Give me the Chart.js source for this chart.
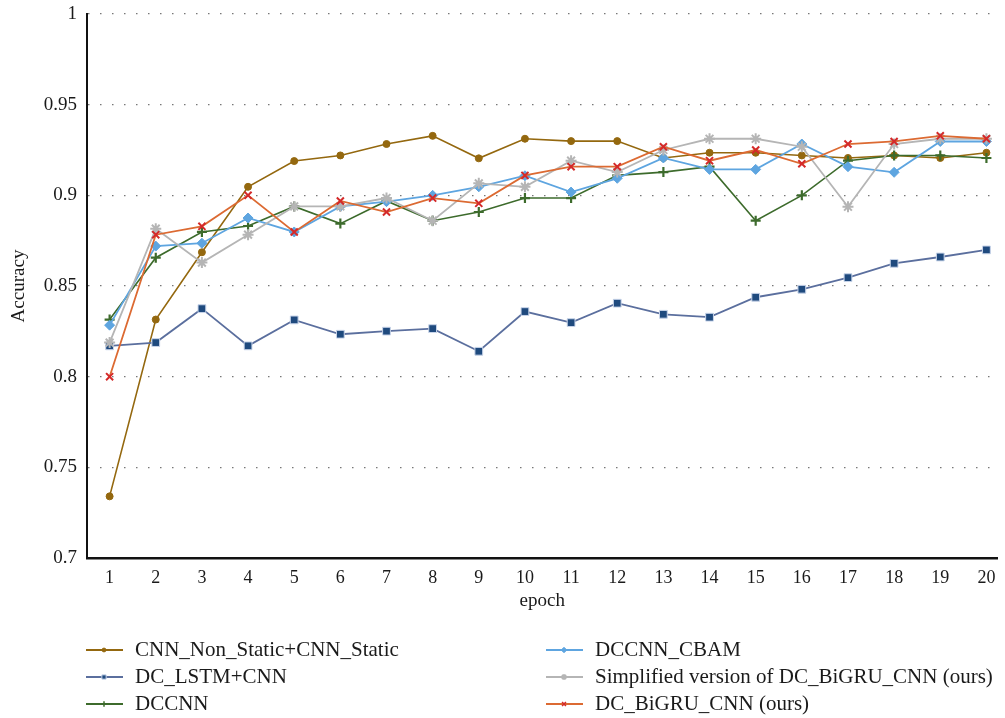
<!DOCTYPE html>
<html>
<head>
<meta charset="utf-8">
<script src="https://cdn.jsdelivr.net/npm/chart.js@4/dist/chart.umd.min.js"></script>
<style>
  html, body { margin: 0; padding: 0; background: #fff; }
  #wrap { position: relative; width: 1005px; height: 718px; }
</style>
</head>
<body>
<div id="wrap"><canvas id="accChart" width="1005" height="718"></canvas></div>
<script>
// --- DONNÉES ---
const epochs = [1, 2, 3, 4, 5, 6, 7, 8, 9, 10, 11, 12, 13, 14, 15, 16, 17, 18, 19, 20];
const yTicks = [0.7, 0.75, 0.8, 0.85, 0.9, 0.95, 1];

const cnnNonStatic = [0.734, 0.8315, 0.8686, 0.9047, 0.9189, 0.922, 0.9283, 0.9328, 0.9204, 0.9312,
                      0.9299, 0.9299, 0.9206, 0.9235, 0.9235, 0.922, 0.9206, 0.922, 0.9206, 0.9235];
const dcLstmCnn    = [0.817, 0.8188, 0.8375, 0.817, 0.8313, 0.8234, 0.8251, 0.8265, 0.814, 0.8359,
                      0.8298, 0.8405, 0.8344, 0.8328, 0.8438, 0.8482, 0.8546, 0.8625, 0.866, 0.8699];
const dccnn        = [0.8315, 0.8656, 0.8798, 0.8831, 0.8939, 0.8844, 0.8969, 0.886, 0.8908, 0.8985,
                      0.8985, 0.911, 0.9128, 0.9158, 0.886, 0.9, 0.9191, 0.922, 0.922, 0.9206];
const dccnnCbam    = [0.8284, 0.872, 0.8736, 0.8875, 0.8798, 0.8939, 0.8965, 0.9, 0.9047, 0.9108,
                      0.9018, 0.9094, 0.9206, 0.9143, 0.9143, 0.9283, 0.9158, 0.9127, 0.9297, 0.9297];
const simplified   = [0.8188, 0.8816, 0.8629, 0.8783, 0.8939, 0.8939, 0.8985, 0.886, 0.9066, 0.9047,
                      0.9191, 0.9128, 0.925, 0.9312, 0.9312, 0.9268, 0.8937, 0.9283, 0.9312, 0.9312];
const dcBiGru      = [0.8, 0.8783, 0.8829, 0.9, 0.8798, 0.8969, 0.8908, 0.8985, 0.8956, 0.911,
                      0.9158, 0.9158, 0.9268, 0.9191, 0.925, 0.9174, 0.9283, 0.9297, 0.9328, 0.9312];

const FONT = "'Liberation Serif', 'DejaVu Serif', serif";

function pts(values) {
    return values.map((v, i) => ({ x: epochs[i], y: v }));
}

// --- SÉRIES ---
const series = [
    { label: "CNN_Non_Static+CNN_Static", data: pts(cnnNonStatic), borderColor: "#94680f",
      pointBackgroundColor: "#94680f", pointBorderColor: "#94680f", pointStyle: "circle",
      pointRadius: 3.5, borderWidth: 1.6, order: 5, col: 0, row: 0 },
    { label: "DC_LSTM+CNN", data: pts(dcLstmCnn), borderColor: "#5b6f9e",
      pointBackgroundColor: "#1f4a7e", pointBorderColor: "#c9d5ea", pointBorderWidth: 1,
      pointStyle: "rect", pointRadius: 5.5, borderWidth: 1.8, order: 4, col: 0, row: 1 },
    { label: "DCCNN", data: pts(dccnn), borderColor: "#3d6b2c",
      pointBackgroundColor: "#3d6b2c", pointBorderColor: "#3d6b2c", pointBorderWidth: 2.2,
      pointStyle: "cross", pointRadius: 5, borderWidth: 1.6, order: 3, col: 0, row: 2 },
    { label: "DCCNN_CBAM", data: pts(dccnnCbam), borderColor: "#5ea5e0",
      pointBackgroundColor: "#5ea5e0", pointBorderColor: "#5ea5e0",
      pointStyle: "rectRot", pointRadius: 5, borderWidth: 1.8, order: 2, col: 1, row: 0 },
    { label: "Simplified version of DC_BiGRU_CNN (ours)", data: pts(simplified), borderColor: "#b5b5b5",
      pointBackgroundColor: "#b5b5b5", pointBorderColor: "#b5b5b5", pointBorderWidth: 2,
      pointStyle: "star", pointRadius: 5.5, borderWidth: 1.8, order: 1, col: 1, row: 1 },
    { label: "DC_BiGRU_CNN (ours)", data: pts(dcBiGru), borderColor: "#dc6a32",
      pointBackgroundColor: "#d42a2a", pointBorderColor: "#d42a2a", pointBorderWidth: 2,
      pointStyle: "crossRot", pointRadius: 5, borderWidth: 1.8, order: 0, col: 1, row: 2 }
];

// Légende sur deux colonnes, dessinée sous le graphique
const legendCols = [86, 546];
const legendRows = [650, 677, 704];
const twoColLegend = {
    id: "twoColLegend",
    afterDraw(chart) {
        const ctx = chart.ctx;
        ctx.save();
        series.forEach(s => {
            const x0 = legendCols[s.col];
            const y = legendRows[s.row];
            ctx.strokeStyle = s.borderColor;
            ctx.lineWidth = 2;
            ctx.beginPath();
            ctx.moveTo(x0, y);
            ctx.lineTo(x0 + 37, y);
            ctx.stroke();
            ctx.fillStyle = s.pointBackgroundColor;
            ctx.strokeStyle = s.pointBorderColor;
            ctx.lineWidth = Math.min(s.pointBorderWidth || 1, 1.5);
            Chart.helpers.drawPoint(ctx, { pointStyle: s.pointStyle, radius: s.pointRadius * 0.55,
                                           rotation: 0, borderWidth: ctx.lineWidth }, x0 + 18, y);
            ctx.fillStyle = "#1a1a1a";
            ctx.font = "21px " + FONT;
            ctx.textBaseline = "middle";
            ctx.textAlign = "left";
            ctx.fillText(s.label, x0 + 49, y);
        });
        ctx.restore();
    }
};

// --- GRAPHIQUE ---
const ctx = document.getElementById("accChart").getContext("2d");
new Chart(ctx, {
    type: "line",
    data: {
        datasets: series.map(s => ({
            label: s.label,
            data: s.data,
            borderColor: s.borderColor,
            backgroundColor: s.borderColor,
            borderWidth: s.borderWidth,
            pointStyle: s.pointStyle,
            pointRadius: s.pointRadius,
            pointBackgroundColor: s.pointBackgroundColor,
            pointBorderColor: s.pointBorderColor,
            pointBorderWidth: s.pointBorderWidth || 1,
            tension: 0,
            fill: false,
            order: s.order
        }))
    },
    options: {
        responsive: false,
        animation: false,
        layout: { padding: { left: 0, right: 7, top: 14, bottom: 100 } },
        plugins: {
            legend: { display: false },
            tooltip: { enabled: false }
        },
        scales: {
            x: {
                type: "linear",
                min: 0.51,
                max: 20.24,
                afterBuildTicks: axis => { axis.ticks = epochs.map(v => ({ value: v })); },
                afterFit: axis => { axis.height = 60; axis.paddingLeft = 0; axis.paddingRight = 0; },
                grid: { display: false, drawTicks: false },
                border: { display: true, color: "#111", width: 2.5 },
                ticks: { color: "#1a1a1a", padding: 9, font: { family: FONT, size: 18 } },
                title: { display: true, text: "epoch", color: "#1a1a1a", padding: { top: 2, bottom: 6 },
                         font: { family: FONT, size: 19 } }
            },
            y: {
                min: 0.7,
                max: 1,
                afterBuildTicks: axis => { axis.ticks = yTicks.map(v => ({ value: v })); },
                afterFit: axis => { axis.width = 87; axis.paddingTop = 0; axis.paddingBottom = 0; },
                grid: { color: "#777", lineWidth: 1.3, drawTicks: false },
                border: { display: true, color: "#111", width: 2, dash: [1.5, 10.5] },
                ticks: { color: "#1a1a1a", padding: 10, font: { family: FONT, size: 19 },
                         callback: v => String(+v.toFixed(2)) },
                title: { display: true, text: "Accuracy", color: "#1a1a1a", padding: { top: 8, bottom: 0 },
                         font: { family: FONT, size: 19 } }
            }
        }
    },
    plugins: [twoColLegend]
});
</script>
</body>
</html>
